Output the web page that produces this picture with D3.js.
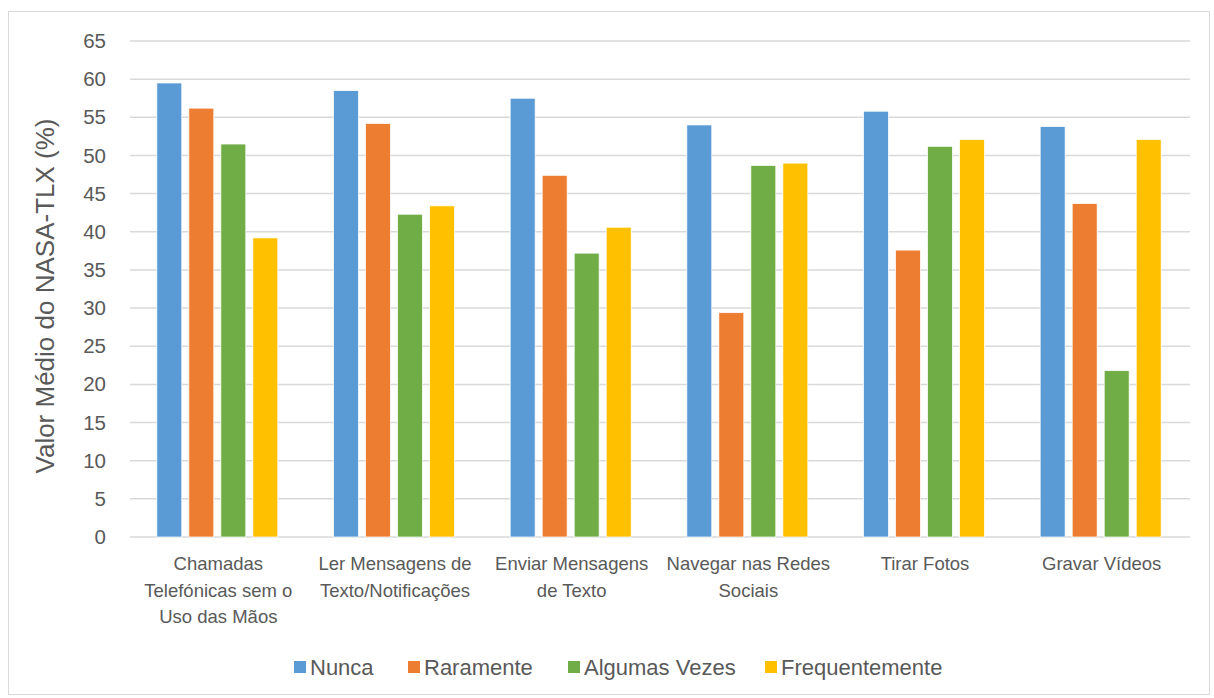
<!DOCTYPE html>
<html>
<head>
<meta charset="utf-8">
<script src="https://cdn.jsdelivr.net/npm/d3@7"></script>
<style>
  body { margin: 0; background: #fff; }
  text { font-family: "Liberation Sans", Arial, sans-serif; fill: #595959; }
</style>
</head>
<body>
<script>
// data
const categories = [
  ["Chamadas", "Telefónicas sem o", "Uso das Mãos"],
  ["Ler Mensagens de", "Texto/Notificações"],
  ["Enviar Mensagens", "de Texto"],
  ["Navegar nas Redes", "Sociais"],
  ["Tirar Fotos"],
  ["Gravar Vídeos"]
];
const seriesNames = ["Nunca", "Raramente", "Algumas Vezes", "Frequentemente"];
const nunca = [59.5, 58.5, 57.5, 54.0, 55.8, 53.8];
const raramente = [56.2, 54.2, 47.4, 29.4, 37.6, 43.7];
const algumasVezes = [51.5, 42.3, 37.2, 48.7, 51.2, 21.8];
const frequentemente = [39.2, 43.4, 40.6, 49.0, 52.1, 52.1];
const yTicks = [0, 5, 10, 15, 20, 25, 30, 35, 40, 45, 50, 55, 60, 65];
const colors = ["#5B9BD5", "#ED7D31", "#70AD47", "#FFC000"];

const series = [nunca, raramente, algumasVezes, frequentemente];

const W = 1214, H = 698;
const plotLeft = 130, plotRight = 1190, plotTop = 41, plotBottom = 537;
const groupW = 121;

const svg = d3.select("body").append("svg")
  .attr("width", W)
  .attr("height", H);

// chart border
svg.append("rect")
  .attr("x", 8.5).attr("y", 11.5)
  .attr("width", 1201).attr("height", 683)
  .attr("fill", "#fff")
  .attr("stroke", "#d9d9d9")
  .attr("stroke-width", 1);

const x = d3.scaleBand()
  .domain(d3.range(categories.length))
  .range([plotLeft, plotRight]);

const xInner = d3.scaleBand()
  .domain(d3.range(series.length))
  .range([0, groupW])
  .paddingInner(0.22);

const y = d3.scaleLinear()
  .domain([0, 65])
  .range([plotBottom, plotTop]);

// gridlines
svg.append("g")
  .selectAll("line")
  .data(yTicks)
  .enter()
  .append("line")
  .attr("x1", plotLeft).attr("x2", plotRight)
  .attr("y1", d => y(d)).attr("y2", d => y(d))
  .attr("stroke", "#d9d9d9")
  .attr("stroke-width", 1.5);

// y axis labels
const yAxis = svg.append("g")
  .attr("transform", `translate(${plotLeft - 24},0)`)
  .call(d3.axisLeft(y).tickValues(yTicks).tickSize(0).tickPadding(0));
yAxis.select(".domain").remove();
yAxis.selectAll("text")
  .style("font-size", "20.5px")
  .style("font-family", "'Liberation Sans', Arial, sans-serif")
  .attr("fill", "#595959");

// bars
const groupOffset = (x.bandwidth() - groupW) / 2 - 1;
series.forEach((vals, si) => {
  svg.append("g")
    .selectAll("rect")
    .data(vals)
    .enter()
    .append("rect")
    .attr("x", (d, i) => x(i) + groupOffset + xInner(si))
    .attr("y", d => y(d))
    .attr("width", xInner.bandwidth())
    .attr("height", d => y(0) - y(d))
    .attr("fill", colors[si])
    .attr("stroke", "#fff")
    .attr("stroke-width", 0.75);
});

// category labels
const catG = svg.append("g");
categories.forEach((lines, i) => {
  const t = catG.append("text")
    .attr("x", x(i) + x.bandwidth() / 2)
    .attr("y", 570)
    .attr("text-anchor", "middle")
    .style("font-size", "18.5px");
  lines.forEach((ln, j) => {
    t.append("tspan")
      .attr("x", x(i) + x.bandwidth() / 2)
      .attr("dy", j === 0 ? 0 : 26.5)
      .text(ln);
  });
});

// y title
svg.append("text")
  .attr("transform", "translate(54,296) rotate(-90)")
  .attr("text-anchor", "middle")
  .style("font-size", "26px")
  .text("Valor Médio do NASA-TLX (%)");

// legend
const legendX = [294, 408, 568, 765];
const lg = svg.append("g");
seriesNames.forEach((name, i) => {
  lg.append("rect")
    .attr("x", legendX[i]).attr("y", 661)
    .attr("width", 12).attr("height", 12)
    .attr("fill", colors[i]);
  lg.append("text")
    .attr("x", legendX[i] + 16)
    .attr("y", 675)
    .style("font-size", "22px")
    .text(name);
});
</script>
</body>
</html>
